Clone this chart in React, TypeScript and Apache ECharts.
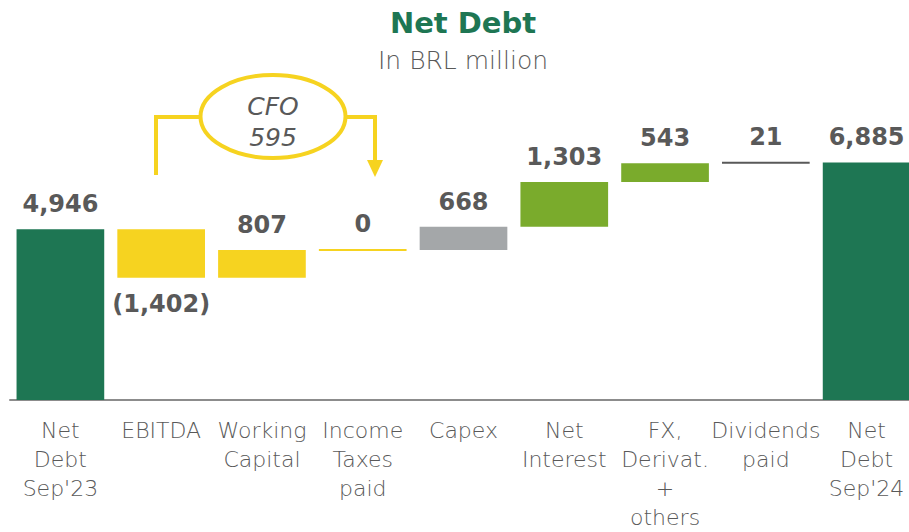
import React, { useEffect, useRef } from "react";
import * as echarts from "echarts";

const categories = [
  "Net\nDebt\nSep'23",
  "EBITDA",
  "Working\nCapital",
  "Income\nTaxes\npaid",
  "Capex",
  "Net\nInterest",
  "FX,\nDerivat.\n+\nothers",
  "Dividends\npaid",
  "Net\nDebt\nSep'24",
];
const values = [4946, -1402, 807, 0, 668, 1303, 543, 21, 6885];
const isTotal = [true, false, false, false, false, false, false, false, true];
const barColors = [
  "#1E7653",
  "#F6D320",
  "#F6D320",
  "#F6D320",
  "#A4A7A9",
  "#7AAB2C",
  "#7AAB2C",
  "#595959",
  "#1E7653",
];
const titleText = "Net Debt";
const subtitleText = "In BRL million";
const cfoLabel = "CFO";
const cfoValue = "595";

const TEXT_GRAY = "#595959";
const FONT = "'DejaVu Sans', sans-serif";

function fmt(v: number): string {
  const s = Math.abs(v).toLocaleString("en-US");
  return v < 0 ? `(${s})` : s;
}

function buildData() {
  let running = 0;
  return values.map((v, i) => {
    let low: number, high: number;
    if (isTotal[i]) {
      low = 0;
      high = v;
      running = v;
    } else {
      low = running;
      high = running + v;
      running = high;
    }
    return [i, low, high, v];
  });
}

export default function App() {
  const ref = useRef<HTMLDivElement>(null);

  useEffect(() => {
    if (!ref.current) return;
    const chart = echarts.init(ref.current, null, { renderer: "svg" });
    const data = buildData();
    const yellow = "#F6D320";

    const centered = {
      align: "center",
      verticalAlign: "middle",
      textAlign: "center",
      textVerticalAlign: "middle",
    };

    const option: any = {
      animation: false,
      grid: { left: 10, right: 0, top: 55, bottom: 127 },
      xAxis: {
        type: "category",
        data: categories,
        axisLine: { lineStyle: { color: "#8C8C8C", width: 2 } },
        axisTick: { show: false },
        axisLabel: {
          interval: 0,
          color: TEXT_GRAY,
          fontFamily: FONT,
          fontSize: 22,
          fontWeight: 300,
          lineHeight: 29,
          margin: 16,
        },
      },
      yAxis: {
        type: "value",
        min: 0,
        max: 10000,
        show: false,
        splitLine: { show: false },
      },
      series: [
        {
          type: "custom",
          data,
          encode: { x: 0, y: [1, 2] },
          renderItem: (params: any, api: any) => {
            const idx = api.value(0);
            const low = api.value(1);
            const high = api.value(2);
            const v = api.value(3);
            const p1 = api.coord([idx, low]);
            const p2 = api.coord([idx, high]);
            const w = api.size([1, 0])[0] * 0.87;
            const x = p1[0] - w / 2;
            let top = Math.min(p1[1], p2[1]);
            let bottom = Math.max(p1[1], p2[1]);
            let h = bottom - top;
            if (h < 2) {
              const mid = (top + bottom) / 2;
              top = mid - 1;
              bottom = mid + 1;
              h = 2;
            }
            const negative = v < 0;
            const ly = negative ? bottom + 26 : top - 25;
            return {
              type: "group",
              children: [
                {
                  type: "rect",
                  shape: { x, y: top, width: w, height: h },
                  style: { fill: barColors[idx] },
                },
                {
                  type: "text",
                  x: p1[0],
                  y: ly,
                  style: {
                    text: fmt(v),
                    fill: TEXT_GRAY,
                    fontFamily: FONT,
                    fontWeight: "bold",
                    fontSize: 24,
                    ...centered,
                  },
                },
              ],
            };
          },
        },
      ],
      graphic: [
        {
          type: "text",
          x: 463,
          y: 23,
          style: {
            text: titleText,
            fill: "#1E7653",
            fontFamily: FONT,
            fontWeight: "bold",
            fontSize: 29,
            ...centered,
          },
        },
        {
          type: "text",
          x: 463,
          y: 60,
          style: {
            text: subtitleText,
            fill: TEXT_GRAY,
            fontFamily: FONT,
            fontWeight: 300,
            fontSize: 25,
            ...centered,
          },
        },
        {
          type: "polyline",
          shape: { points: [[156, 175], [156, 117], [201, 117]] },
          style: { stroke: yellow, lineWidth: 4, fill: null },
        },
        {
          type: "polyline",
          shape: { points: [[345, 117], [375, 117], [375, 162]] },
          style: { stroke: yellow, lineWidth: 4, fill: null },
        },
        {
          type: "polygon",
          shape: { points: [[367, 160], [383, 160], [375, 177]] },
          style: { fill: yellow },
        },
        {
          type: "ellipse",
          shape: { cx: 273, cy: 116.5, rx: 72.5, ry: 41.5 },
          style: { fill: "#ffffff", stroke: yellow, lineWidth: 4 },
        },
        {
          type: "text",
          x: 273,
          y: 106,
          style: {
            text: cfoLabel,
            fill: TEXT_GRAY,
            fontFamily: FONT,
            fontStyle: "italic",
            fontWeight: 300,
            fontSize: 25,
            ...centered,
          },
        },
        {
          type: "text",
          x: 273,
          y: 137,
          style: {
            text: cfoValue,
            fill: TEXT_GRAY,
            fontFamily: FONT,
            fontStyle: "italic",
            fontWeight: 300,
            fontSize: 25,
            ...centered,
          },
        },
      ],
    };

    chart.setOption(option);
    return () => chart.dispose();
  }, []);

  return (
    <div
      style={{
        position: "absolute",
        left: 0,
        top: 0,
        width: 909,
        height: 532,
        overflow: "hidden",
        background: "#ffffff",
      }}
    >
      <div ref={ref} style={{ width: 917, height: 532 }} />
    </div>
  );
}
